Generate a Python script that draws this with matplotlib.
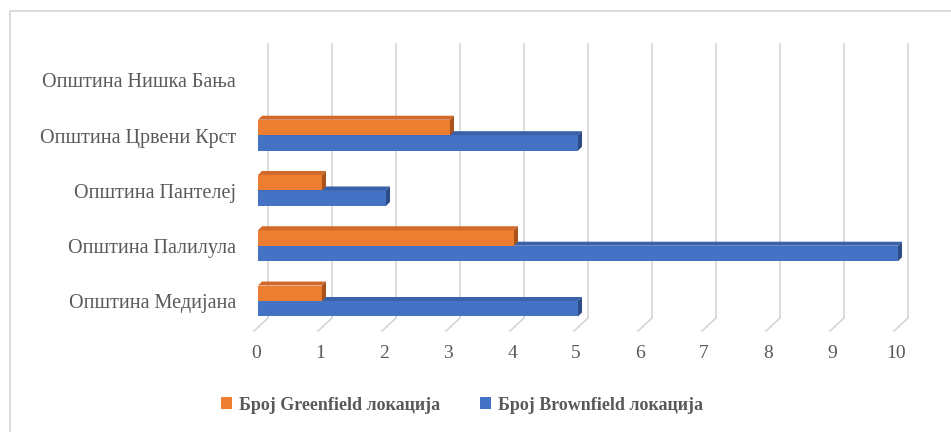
import matplotlib.pyplot as plt
from matplotlib.patches import Polygon, Rectangle
from matplotlib.lines import Line2D

plt.rcParams['font.family'] = ['Liberation Serif', 'DejaVu Serif']

categories = ['Општина Медијана', 'Општина Палилула', 'Општина Пантелеј',
              'Општина Црвени Крст', 'Општина Нишка Бања']
greenfield = [1, 4, 1, 3, 0]
brownfield = [5, 10, 2, 5, 0]
series_names = ['Број Greenfield локација', 'Број Brownfield локација']
xticks = list(range(0, 11))

orange, orange_top, orange_side = '#ED7D31', '#D2692A', '#A9531C'
blue, blue_top, blue_side = '#4472C4', '#3A62AA', '#2D4C86'
grey_text = '#595959'
grid_col = '#D9D9D9'

fig = plt.figure(figsize=(9.51, 4.32), dpi=100)
W, H = 951, 432
# front plane: value 0 at x=258 px, 10 at 898 px; axes spans y 44..331 px
ax = fig.add_axes([258 / W, (H - 331) / H, 640 / W, (331 - 44) / H])
ax.set_xlim(0, 10)
ax.set_ylim(-0.543, 4.65)
ax.axis('off')

px_x = 10 / 640      # one pixel in x data units
px_y = 5.193 / 287   # one pixel in y data units

# back-wall gridlines with a slanted floor segment
y_top = 4.65
y_floor_back = -0.543 + 13 * px_y
y_front = -0.543
for v in xticks:
    ax.add_line(Line2D([v + 10 * px_x, v + 10 * px_x], [y_floor_back, y_top],
                       color=grid_col, lw=1.3, zorder=1, clip_on=False))
    ax.add_line(Line2D([v + 10 * px_x, v - 4 * px_x], [y_floor_back, y_front],
                       color=grid_col, lw=1.3, zorder=1, clip_on=False))
    ax.text(v - 2 * px_x, y_front - 14 * px_y, str(v), ha='center', va='top',
            fontsize=14, color=grey_text)

bar_h = 0.28
dpx = 4  # bar depth in pixels

def bar3d(y0, val, front, top, side, z):
    if val <= 0:
        return
    ax.add_patch(Rectangle((0, y0), val, bar_h, facecolor=front, edgecolor='none',
                           zorder=z, clip_on=False))
    dx, dy = dpx * px_x, dpx * px_y
    y1 = y0 + bar_h
    ax.add_patch(Polygon([(0, y1), (val, y1), (val + dx, y1 + dy), (dx, y1 + dy)],
                         facecolor=top, edgecolor='none', zorder=z, clip_on=False))
    ax.add_patch(Polygon([(val, y1), (val + dx, y1 + dy), (val + dx, y0 + dy), (val, y0)],
                         facecolor=side, edgecolor='none', zorder=z, clip_on=False))

for i in range(len(categories)):
    bar3d(i - bar_h, brownfield[i], blue, blue_top, blue_side, 3)
for i in range(len(categories)):
    bar3d(i, greenfield[i], orange, orange_top, orange_side, 4)

for i, name in enumerate(categories):
    ax.text(-22 * px_x, i - 3 * px_y, name, ha='right', va='center', fontsize=14.5,
            color=grey_text)

# legend
leg_handles = [Rectangle((0, 0), 1, 1, facecolor=orange), Rectangle((0, 0), 1, 1, facecolor=blue)]
fig.legend(leg_handles, series_names, loc='center', bbox_to_anchor=(462 / W, (H - 405) / H),
           ncol=2, frameon=False, handlelength=0.6, handleheight=0.6, handletextpad=0.4,
           columnspacing=2.2, prop={'weight': 'bold', 'size': 13},
           labelcolor=grey_text)

# chart area border (left and top edges)
fig.add_artist(Line2D([9.5 / W, 9.5 / W, 1], [0, 1 - 11 / H, 1 - 11 / H],
                      color='#D9D9D9', lw=1.3, transform=fig.transFigure))

fig.savefig('out.png', dpi=100)
